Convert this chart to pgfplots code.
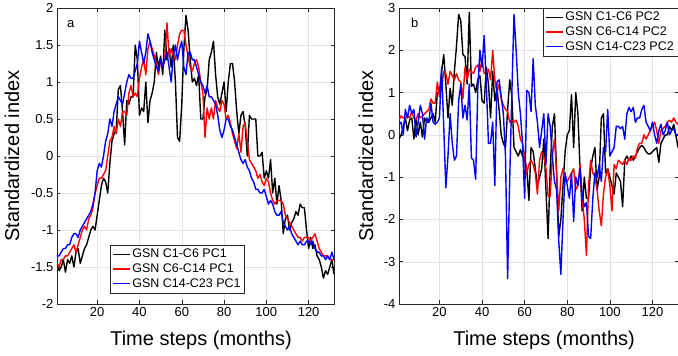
\documentclass[border=0pt]{standalone}
\usepackage{pgfplots}
\usepackage{pgfplotstable}
\pgfplotsset{compat=1.18}
\usepackage{fontspec}
\setmainfont{Liberation Sans}
\definecolor{axgray}{gray}{0.15}
\definecolor{mblue}{rgb}{0,0,1}
\definecolor{mred}{rgb}{1,0,0}
\definecolor{mblack}{rgb}{0,0,0}
\pgfplotstableread{
t k r b
1 -1.45 -1.45 -1.35
2 -1.55 -1.5 -1.35
3 -1.5 -1.4 -1.3
4 -1.4 -1.4 -1.25
5 -1.57 -1.35 -1.25
6 -1.4 -1.35 -1.2
7 -1.45 -1.3 -1.2
8 -1.35 -1.25 -1.1
9 -1.5 -1.2 -1.05
10 -1.3 -1.3 -1.05
11 -1.25 -1.2 -1.1
12 -1.45 -1.1 -1.0
13 -1.35 -1.0 -0.95
14 -1.25 -0.95 -0.9
15 -1.2 -1.0 -0.85
16 -1.1 -0.85 -0.8
17 -1.0 -0.8 -0.75
18 -0.95 -0.7 -0.65
19 -1.0 -0.5 -0.5
20 -0.8 -0.4 -0.2
21 -0.6 -0.3 -0.1
22 -0.4 -0.3 -0.15
23 -0.3 -0.25 0.0
24 -0.35 -0.2 0.2
25 -0.5 0.0 0.3
26 -0.1 0.2 0.5
27 0.2 0.25 0.4
28 0.3 0.4 0.6
29 0.35 0.3 0.7
30 0.9 0.5 0.8
31 0.95 0.4 0.75
32 0.6 0.6 0.7
33 0.15 0.6 0.85
34 0.75 0.55 1.0
35 0.7 0.85 1.1
36 0.8 0.95 1.05
37 0.8 0.8 1.05
38 1.5 0.85 1.15
39 1.3 0.8 1.25
40 0.55 1.05 1.55
41 0.65 1.2 1.4
42 0.6 1.3 1.25
43 1.0 1.1 1.4
44 0.45 1.45 1.65
45 0.75 1.55 1.55
46 0.85 1.45 1.4
47 1.0 1.35 1.3
48 1.4 1.25 1.2
49 1.2 1.1 1.15
50 1.35 1.3 1.3
51 1.1 1.2 1.2
52 1.7 1.3 1.3
53 1.3 1.8 1.4
54 1.45 1.35 1.2
55 1.2 1.45 1.0
56 1.5 1.35 1.35
57 1.0 1.3 1.5
58 0.25 1.5 1.3
59 0.2 1.65 1.45
60 0.7 1.7 1.55
61 1.45 1.7 1.2
62 1.9 1.5 1.1
63 1.7 1.35 1.4
64 1.3 1.2 1.4
65 1.0 1.15 1.3
66 1.05 1.25 1.3
67 0.95 1.3 1.2
68 1.1 1.2 1.1
69 0.5 1.0 1.0
70 0.5 0.85 0.95
71 0.8 0.25 0.85
72 0.9 0.65 0.95
73 1.3 0.5 0.8
74 1.4 0.65 0.8
75 1.55 0.5 0.75
76 1.1 0.75 0.7
77 0.8 0.65 0.55
78 0.7 0.6 0.35
79 0.85 0.75 0.25
80 1.0 0.7 0.35
81 0.6 0.5 0.5
82 1.0 0.55 0.5
83 1.25 0.45 0.4
84 1.25 0.3 0.35
85 1.0 0.2 0.25
86 0.6 0.1 0.15
87 0.3 0.3 0.05
88 0.55 0.05 -0.05
89 0.6 0.4 -0.1
90 0.4 0.45 -0.05
91 0.0 0.2 -0.15
92 0.55 -0.05 -0.2
93 0.5 -0.1 -0.3
94 0.5 -0.15 -0.35
95 0.5 -0.2 -0.45
96 0.0 -0.3 -0.45
97 0.0 -0.25 -0.5
98 0.05 -0.35 -0.5
99 -0.3 -0.4 -0.45
100 -0.2 -0.3 -0.55
101 -0.3 -0.35 -0.65
102 -0.05 -0.5 -0.6
103 -0.5 -0.6 -0.65
104 -0.3 -0.65 -0.75
105 -0.65 -0.6 -0.8
106 -0.4 -0.6 -0.8
107 -0.6 -0.6 -0.75
108 -1.05 -0.65 -0.9
109 -0.85 -0.8 -0.95
110 -0.8 -0.85 -1.0
111 -1.0 -0.9 -0.95
112 -0.9 -0.95 -1.05
113 -0.85 -1.0 -1.1
114 -0.75 -1.05 -1.15
115 -0.8 -1.1 -1.2
116 -0.65 -1.1 -1.15
117 -0.7 -1.15 -1.2
118 -0.7 -1.1 -1.2
119 -1.0 -1.1 -1.15
120 -1.25 -1.1 -1.15
121 -1.1 -1.15 -1.2
122 -1.25 -1.1 -1.15
123 -1.2 -1.05 -1.25
124 -1.35 -1.15 -1.3
125 -1.4 -1.25 -1.3
126 -1.5 -1.3 -1.35
127 -1.65 -1.35 -1.35
128 -1.55 -1.35 -1.4
129 -1.6 -1.35 -1.35
130 -1.5 -1.4 -1.4
131 -1.4 -1.4 -1.3
132 -1.6 -1.4 -1.4
}\pcone
\pgfplotstableread{
t k r b
1 -0.1 0.35 0.25
2 0.0 0.45 0.3
3 0.2 0.4 0.0
4 0.4 0.4 0.6
5 0.1 0.45 0.4
6 0.35 0.4 0.7
7 0.4 0.55 0.5
8 -0.1 0.4 0.6
9 0.4 0.35 -0.05
10 0.0 0.5 0.3
11 0.3 0.4 0.7
12 -0.05 0.45 0.5
13 0.4 0.5 -0.1
14 0.3 0.55 0.4
15 0.3 0.6 0.3
16 0.4 0.85 0.75
17 0.5 0.75 0.3
18 0.3 0.75 0.25
19 1.0 1.25 0.3
20 1.0 0.9 0.4
21 1.5 1.1 1.6
22 1.9 1.5 0.2
23 1.2 1.45 -1.25
24 0.4 1.2 -0.5
25 1.1 1.5 0.5
26 0.7 1.4 -0.2
27 1.5 1.3 -0.6
28 2.1 1.45 -0.5
29 2.85 1.3 0.8
30 2.7 1.25 1.2
31 1.9 0.85 0.4
32 1.85 1.6 0.7
33 1.2 1.3 0.35
34 2.9 1.55 1.2
35 1.15 1.5 -0.55
36 1.2 1.45 -0.6
37 1.0 1.6 -1.05
38 1.3 1.65 1.1
39 1.4 1.5 2.0
40 0.8 1.8 1.6
41 0.75 1.45 2.35
42 1.6 1.5 1.2
43 1.2 1.55 -0.2
44 0.4 1.3 -0.2
45 1.5 2.0 0.3
46 0.8 1.3 -1.2
47 1.1 1.0 1.25
48 0.6 1.2 1.3
49 0.0 0.85 0.9
50 -0.2 0.7 0.5
51 -0.3 0.6 -0.5
52 0.6 0.55 -3.4
53 1.3 0.3 -1.0
54 0.9 0.35 1.0
55 -0.3 0.3 2.85
56 -0.4 0.35 2.0
57 -0.5 0.2 1.0
58 -0.35 -0.1 0.5
59 -0.5 -0.2 -0.2
60 -0.6 -0.5 -1.5
61 -0.8 -0.9 1.05
62 -1.55 -0.7 1.0
63 -0.3 -0.6 0.55
64 -0.4 -0.7 1.8
65 -0.8 -0.9 0.7
66 -1.2 -1.4 0.3
67 -1.0 -0.6 -0.3
68 -0.8 -0.4 0.1
69 -0.1 -0.5 0.5
70 -1.3 -0.8 -0.7
71 -2.45 -1.45 0.5
72 -0.8 -1.45 0.2
73 0.2 -0.5 -0.5
74 0.5 -0.1 -1.1
75 -0.9 -0.9 -1.3
76 -2.4 -1.8 -2.5
77 -2.0 -1.0 -3.3
78 -1.2 -0.8 -2.0
79 -0.4 -1.1 -0.9
80 0.0 -1.1 -1.2
81 0.1 -1.0 -1.5
82 0.95 -0.9 -0.9
83 -0.3 -0.8 -2.05
84 1.0 -1.3 -1.0
85 0.5 -1.2 -1.2
86 -0.8 -0.7 -0.8
87 -1.8 -1.5 -1.4
88 -1.0 -2.0 -1.7
89 -1.5 -2.85 -1.6
90 -1.5 -1.2 -2.4
91 -0.8 -0.6 -2.45
92 -0.5 -0.9 -1.5
93 -0.3 -1.0 -0.9
94 -1.3 -1.3 -1.0
95 -1.0 -1.8 -0.7
96 0.4 -2.15 -1.1
97 0.5 -1.4 -0.3
98 -0.9 -1.0 -0.4
99 -0.8 -0.8 0.6
100 -1.0 -1.2 -0.5
101 -1.2 -1.8 -0.4
102 -1.4 -0.7 -0.3
103 -0.9 -0.8 0.2
104 -1.0 -0.6 0.2
105 -1.1 -0.65 0.15
106 -1.7 -0.7 0.2
107 -0.6 -0.6 -0.1
108 -0.5 -0.7 0.5
109 -0.6 -0.55 0.65
110 -0.5 -0.6 0.55
111 -0.6 -0.5 0.65
112 -0.5 -0.55 0.3
113 -0.4 -0.3 0.4
114 -0.3 -0.2 0.4
115 -0.25 -0.2 0.6
116 -0.3 0.0 0.7
117 -0.4 -0.1 0.3
118 -0.45 0.0 0.2
119 -0.45 0.1 0.1
120 -0.4 0.2 0.3
121 -0.35 0.3 0.0
122 -0.3 0.1 -0.2
123 -0.65 -0.2 0.1
124 -0.2 0.1 0.25
125 -0.1 0.15 0.0
126 0.0 0.2 0.1
127 0.0 0.3 0.3
128 0.2 0.35 0.0
129 0.1 0.3 0.1
130 0.25 0.4 0.15
131 0.0 0.3 0.0
132 -0.3 0.25 0.0
}\pctwo
\pgfplotsset{
  myax/.style={
    scale only axis, width=277pt, height=296pt,
    xmin=1, xmax=132,
    xtick={20,40,...,120},
    axis line style={axgray, line width=0.5pt},
    tick style={axgray, line width=0.5pt},
    tick align=inside, major tick length=3.5pt,
    grid=major, major grid style={gray!22, line width=0.4pt},
    tick label style={font=\fontsize{13}{15}\selectfont, text=black},
    /pgf/number format/assume math mode=true,
    label style={font=\fontsize{20}{24}\selectfont},
    xlabel={Time steps (months)},
    ylabel={Standardized index},
    xlabel style={at={(axis description cs:0.52,-0.078)}, anchor=north},
    legend style={font=\fontsize{12.5}{15}\selectfont, draw=axgray, fill=white, inner sep=2pt, row sep=0.5pt},
    legend cell align=left,
    cycle list={
      {draw=mblack, line width=1.4pt, line join=round},
      {draw=mred, line width=1.4pt, line join=round},
      {draw=mblue, line width=1.4pt, line join=round}},
  }
}
\begin{document}
\begin{tikzpicture}
\begin{axis}[myax, name=pa,
  ymin=-2, ymax=2, ytick={-2,-1.5,...,2},
  ylabel style={at={(axis description cs:-0.123,0.5)}, anchor=south},
  legend style={at={(axis description cs:0.19,0.037)}, anchor=south west},
]
\addplot table[x=t,y=k]{\pcone};
\addplot table[x=t,y=r]{\pcone};
\addplot table[x=t,y=b]{\pcone};
\legend{GSN C1-C6 PC1, GSN C6-C14 PC1, GSN C14-C23 PC1}
\node[font=\fontsize{13}{15}\selectfont] at (axis description cs:0.05,0.945) {a};
\end{axis}
\begin{axis}[myax, at={(342pt,0pt)}, width=279pt,
  ymin=-4, ymax=3, ytick={-4,-3,...,3},
  ylabel style={at={(axis description cs:-0.079,0.5)}, anchor=south},
  legend style={at={(axis description cs:1,1)}, anchor=north east},
]
\addplot table[x=t,y=k]{\pctwo};
\addplot table[x=t,y=r]{\pctwo};
\addplot table[x=t,y=b]{\pctwo};
\legend{GSN C1-C6 PC2, GSN C6-C14 PC2, GSN C14-C23 PC2}
\node[font=\fontsize{13}{15}\selectfont] at (axis description cs:0.056,0.95) {b};
\end{axis}
\pgfresetboundingbox
\path[use as bounding box] (-57pt,-52pt) rectangle (621pt,304pt);
\end{tikzpicture}
\end{document}
